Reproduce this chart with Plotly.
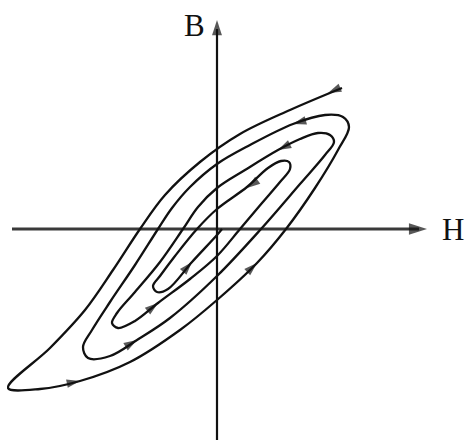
import plotly.graph_objects as go
import numpy as np

# Demagnetisation spiral (H horizontal, B vertical)
H_path = [125, 73, 23, -17, -52, -77, -104, -132, -167, -209,
          -177, -137, -87, -37, 0, 40, 69, 98, 121, 132, 126, 108,
          76, 33, 0, -27, -45, -59, -82, -107, -125, -134, -129, -107, -80,
          -47, 0, 44, 83, 108, 117, 113, 101, 83,
          61, 28, 0, -19, -34, -57, -82, -100, -105, -99, -82, -59,
          -27, 0, 23, 45, 63, 73, 72, 64, 51,
          30, 0, -20, -42, -57, -64, -60, -49, -25, 0, 5]
B_path = [141, 119, 95, 67, 34, 0, -41, -81, -119, -159,
          -160, -152, -133, -101, -71, -34, 0, 41, 79, 102, 112, 114,
          105, 84, 65, 42, 21, 0, -36, -73, -101, -118, -129, -127, -111,
          -89, -47, 0, 45, 74, 87, 94, 96, 90,
          79, 59, 41, 22, 0, -33, -63, -84, -94, -99, -92, -74,
          -50, -27, 0, 26, 47, 60, 67, 68, 61,
          42, 20, 0, -27, -47, -57, -63, -60, -33, -6, 0]

# direction arrows on the curve
arrow_H = [111, 76, 61, 30, -25, -59, -80, -137, 40]
arrow_B = [136, 105, 79, 41, -33, -74, -111, -152, -34]

# axes extents
H_axis = [-205, 202]
B_axis = [-215, 200]
axis_labels = ["B", "H"]

Hp = np.array(H_path, float)
Bp = np.array(B_path, float)

# helper points so each arrow points along the local tangent (nearest segment)
ax_pts, ay_pts, sizes = [], [], []
for h, b in zip(arrow_H, arrow_B):
    best, bd = 0, 1e18
    for k in range(len(Hp) - 1):
        p0 = np.array([Hp[k], Bp[k]]); p1 = np.array([Hp[k + 1], Bp[k + 1]])
        d = p1 - p0
        t = np.clip(np.dot(np.array([h, b]) - p0, d) / np.dot(d, d), 0, 1)
        dist = np.sum((p0 + t * d - np.array([h, b])) ** 2)
        if dist < bd:
            bd, best = dist, k
    dx, dy = Hp[best + 1] - Hp[best], Bp[best + 1] - Bp[best]
    n = np.hypot(dx, dy)
    ax_pts += [h - dx / n * 3, h]
    ay_pts += [b - dy / n * 3, b]
    sizes += [0, 14]

fig = go.Figure()

# axes
fig.add_trace(go.Scatter(x=H_axis, y=[0, 0], mode="lines",
                         line=dict(color="#3a3a3a", width=2.8), hoverinfo="skip"))
fig.add_trace(go.Scatter(x=[0, 0], y=B_axis, mode="lines",
                         line=dict(color="#111111", width=2.2), hoverinfo="skip"))
fig.add_trace(go.Scatter(x=[210, 0], y=[0, 209], mode="markers",
                         marker=dict(symbol="arrow", size=[19, 16], angle=[90, 0],
                                     color="#111111", line=dict(width=0)),
                         hoverinfo="skip"))

# spiral curve
fig.add_trace(go.Scatter(x=H_path, y=B_path, mode="lines",
                         line=dict(color="#111111", width=2.3, shape="spline", smoothing=1.0),
                         hoverinfo="skip"))

# arrows on curve
fig.add_trace(go.Scatter(x=ax_pts, y=ay_pts, mode="markers",
                         marker=dict(symbol="arrow", size=sizes, angleref="previous",
                                     color="#111111", line=dict(width=0)),
                         hoverinfo="skip"))

fig.add_annotation(x=-23, y=204, text=axis_labels[0], showarrow=False,
                   font=dict(family="Liberation Serif", size=31, color="#111111"))
fig.add_annotation(x=236, y=0, text=axis_labels[1], showarrow=False,
                   font=dict(family="Liberation Serif", size=31, color="#111111"))

fig.update_layout(
    width=467, height=440,
    margin=dict(l=0, r=0, t=0, b=0),
    paper_bgcolor="white", plot_bgcolor="white",
    showlegend=False,
    xaxis=dict(range=[-217, 250], visible=False, fixedrange=True),
    yaxis=dict(range=[-211, 229], visible=False, fixedrange=True),
)

fig.write_html("out.html", config={"displayModeBar": False},
               post_script="document.body.style.margin='0px';document.body.style.overflow='hidden';")
